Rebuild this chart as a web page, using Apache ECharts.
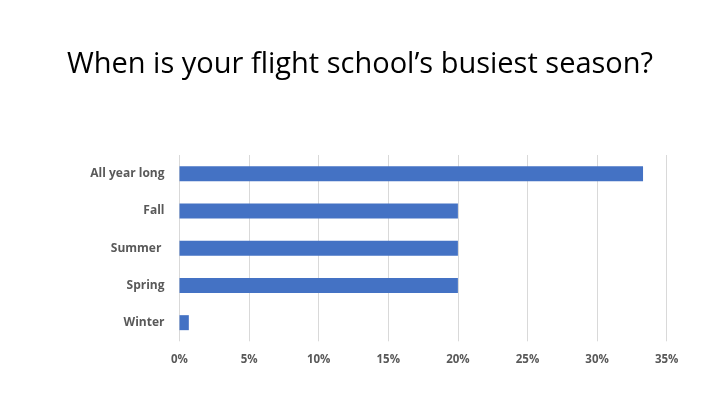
<!DOCTYPE html>
<html><head><meta charset="utf-8">
<script src="https://cdn.jsdelivr.net/npm/echarts@6/dist/echarts.min.js"></script>
<style>html,body{margin:0;padding:0;background:#fff}#c{width:720px;height:405px}</style>
</head><body><div id="c"></div>
<script>
const titleText = "When is your flight school’s busiest season?";
const categories = ["Winter", "Spring", "Summer ", "Fall", "All year long"];
const values = [0.67, 20, 20, 20, 33.3];
const tickMax = 35, tickStep = 5;

const chart = echarts.init(document.getElementById('c'));
chart.setOption({
  animation: false,
  title: {
    text: titleText, left: 'center', top: 45,
    textStyle: {fontFamily: 'Open Sans', fontSize: 29, fontWeight: 'normal', color: '#000'}
  },
  grid: {left: 179.5, right: 53.3, top: 155, bottom: 63.7, containLabel: false},
  xAxis: {
    type: 'value', min: 0, max: tickMax, interval: tickStep,
    axisLine: {show: false}, axisTick: {show: false},
    splitLine: {lineStyle: {color: '#d9d9d9', width: 1}},
    axisLabel: {formatter: v => v + '%', color: '#595959', fontWeight: 'bold',
      fontFamily: 'Open Sans', fontSize: 11.5, margin: 12}
  },
  yAxis: {
    type: 'category', data: categories,
    axisLine: {show: false}, axisTick: {show: false},
    axisLabel: {color: '#595959', fontWeight: 'bold', fontFamily: 'Open Sans', fontSize: 12, margin: 15}
  },
  series: [{
    type: 'bar', data: values, barWidth: 15,
    itemStyle: {color: '#4472c4'}
  }]
});
</script></body></html>
